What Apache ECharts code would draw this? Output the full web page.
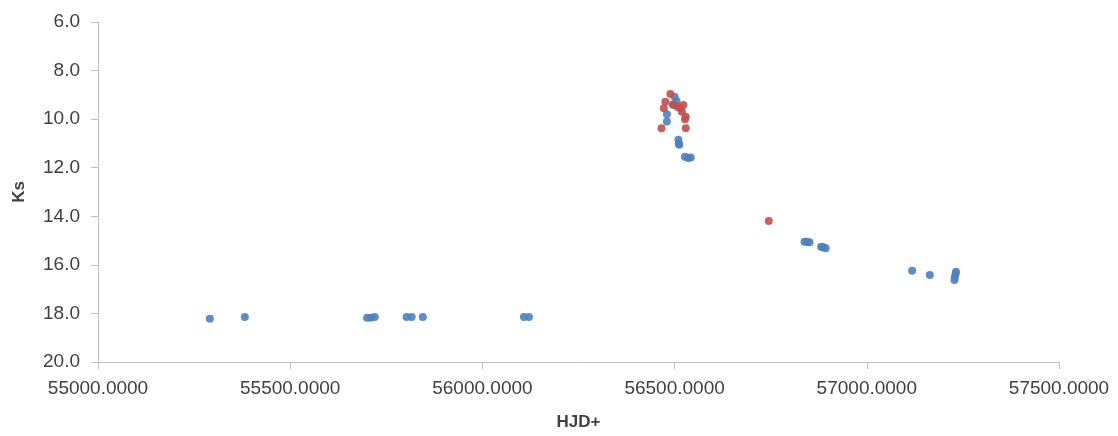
<!DOCTYPE html>
<html><head><meta charset="utf-8">
<script src="https://cdn.jsdelivr.net/npm/echarts@6/dist/echarts.min.js"></script>
<style>html,body{margin:0;padding:0;background:#fff}#c{width:1118px;height:436px}</style>
</head><body><div id="c"></div>
<script>
// Blue series (HJD, Ks)
const blueHJD = [55291,55382,55700,55710,55720,55803,55816,55845,56108,56121,
  56500,56505,56495,56480,56480,56510,56511,56512,56527,56535,56542,
  56838,56845,56851,56881,56887,56893,57118,57164,57232,57231,57229,57228];
const blueKs = [18.22,18.15,18.18,18.18,18.15,18.15,18.15,18.15,18.15,18.15,
  9.08,9.25,9.4,9.8,10.1,10.85,11.0,11.05,11.55,11.6,11.58,
  15.05,15.05,15.07,15.25,15.28,15.32,16.24,16.42,16.28,16.38,16.5,16.62];
// Red series (HJD, Ks)
const redHJD = [56489,56476,56472,56498,56508,56515,56523,56519,56527,56529,56466,56529,56745];
const redKs = [8.96,9.28,9.55,9.42,9.5,9.55,9.42,9.7,10.0,9.9,10.38,10.38,14.19];
const xTicks = {min:55000, max:57500, interval:500};
const yTicks = {min:6, max:20, interval:2};

const zip = (a,b)=>a.map((v,i)=>[v,b[i]]);
const txt = '#404040', axc = '#BFBFBF';
const font = 'Liberation Sans, Arial, sans-serif';
const chart = echarts.init(document.getElementById('c'));
chart.setOption({
  animation:false,
  grid:{left:98,right:59,top:22,bottom:73},
  xAxis:{type:'value',min:xTicks.min,max:xTicks.max,interval:xTicks.interval,
    name:'HJD+',nameLocation:'middle',nameGap:52,
    nameTextStyle:{fontFamily:font,fontSize:17,fontWeight:'bold',color:txt},
    axisLine:{lineStyle:{color:axc}},axisTick:{show:true,length:7,lineStyle:{color:axc}},
    splitLine:{show:false},
    axisLabel:{margin:17,fontFamily:font,fontSize:19,color:txt,formatter:v=>v.toFixed(4)}},
  yAxis:{type:'value',inverse:true,min:yTicks.min,max:yTicks.max,interval:yTicks.interval,
    name:'Ks',nameLocation:'middle',nameGap:70,nameRotate:90,
    nameTextStyle:{fontFamily:font,fontSize:17,fontWeight:'bold',color:txt},
    axisLine:{show:true,lineStyle:{color:axc}},axisTick:{show:true,length:7,lineStyle:{color:axc}},
    splitLine:{show:false},
    axisLabel:{margin:18,fontFamily:font,fontSize:19,color:txt,formatter:v=>v.toFixed(1)}},
  series:[
    {type:'scatter',data:zip(blueHJD,blueKs),symbolSize:8,itemStyle:{color:'#4F81BD',opacity:0.9}},
    {type:'scatter',data:zip(redHJD,redKs),symbolSize:8,itemStyle:{color:'#C0504D',opacity:0.9}}
  ]
});
</script></body></html>
